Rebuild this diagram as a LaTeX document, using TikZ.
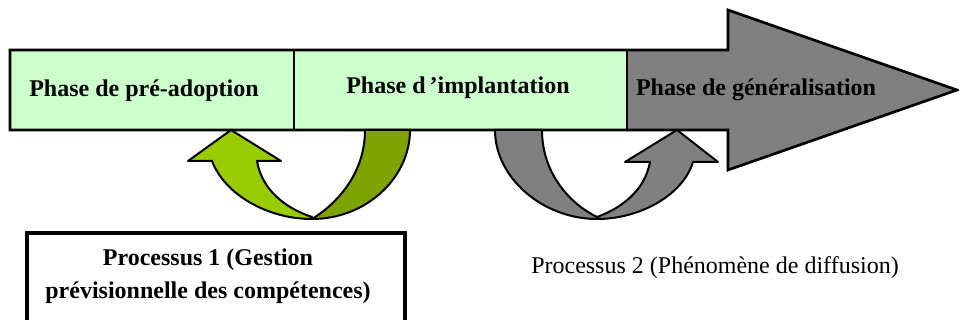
\documentclass[tikz,border=0pt]{standalone}
\usepackage{fontspec}
\setmainfont{Liberation Serif}
\definecolor{barGreen}{HTML}{CCFFCC}
\definecolor{barGray}{HTML}{808080}
\definecolor{loopLight}{HTML}{99CC00}
\definecolor{loopDark}{HTML}{7FA300}
\definecolor{loopGray}{HTML}{808080}
\tikzset{
  outline/.style={draw=black, line width=2pt, line join=miter},
  loopshape/.style={draw=black, line width=1.5pt, line join=round},
  phase/.style={font=\fontsize{18}{20}\selectfont\bfseries, inner sep=0pt},
  proc/.style={font=\fontsize{18}{24.75}\selectfont, inner sep=0pt, align=center},
}
\begin{document}
\begin{tikzpicture}[x=0.75pt, y=-0.75pt]
  \useasboundingbox (0,0) rectangle (959,320);
  \clip (0,0) rectangle (959,320);

  % big arrow: grey body and head
  \path[fill=barGray] (627,50) -- (728,50) -- (728,10) -- (957,90)
    -- (728,170) -- (728,130) -- (627,130) -- cycle;
  % green phase cells
  \path[fill=barGreen] (10,50) rectangle (627,130);
  \draw[outline] (10,50) -- (728,50) -- (728,10) -- (957,90)
    -- (728,170) -- (728,130) -- (10,130) -- cycle;
  \draw[line width=1.5pt] (294,50) -- (294,130);
  \draw[line width=1.5pt] (627,50) -- (627,130);

  \node[phase] (pre) at (144,91) {Phase de pré-adoption};
  \node[phase] (impl) at (458,88) {Phase d\,’implantation};
  \node[phase] (gen) at (756,90) {Phase de généralisation};

  % process 1 loop: back part
  \draw[loopshape, fill=loopDark] (365,130) -- (410,130)
    .. controls (410,178) and (366,219) .. (312,219)
    .. controls (335,205) and (365,175) .. (365,130) -- cycle;
  % process 1 loop: front part with head
  \draw[loopshape, fill=loopLight] (312,219)
    .. controls (268,219) and (225,195) .. (212,161)
    -- (188,161) -- (231,130) -- (281,161) -- (257,161)
    .. controls (262,190) and (285,208) .. (312,217) -- cycle;

  % process 2 loop: back part
  \draw[loopshape, fill=loopGray] (495,130) -- (542,130)
    .. controls (542,175) and (572,205) .. (597,217)
    -- (597,219)
    .. controls (543,219) and (495,178) .. (495,130) -- cycle;
  % process 2 loop: front part with head
  \draw[loopshape, fill=loopGray] (597,219)
    .. controls (640,219) and (683,195) .. (693,162)
    -- (718,162) -- (677,130) -- (625,162) -- (650,162)
    .. controls (645,190) and (622,208) .. (597,217) -- cycle;

  % labels of the two processes
  \draw[line width=2.4pt] (27,233) rectangle (405,340);
  \node[proc, font=\fontsize{18}{24.75}\selectfont\bfseries] (p1) at (208,276)
    {Processus 1 (Gestion\\prévisionnelle des compétences)};
  \node[proc] (p2) at (715,268) {Processus 2 (Phénomène de diffusion)};
\end{tikzpicture}
\end{document}
